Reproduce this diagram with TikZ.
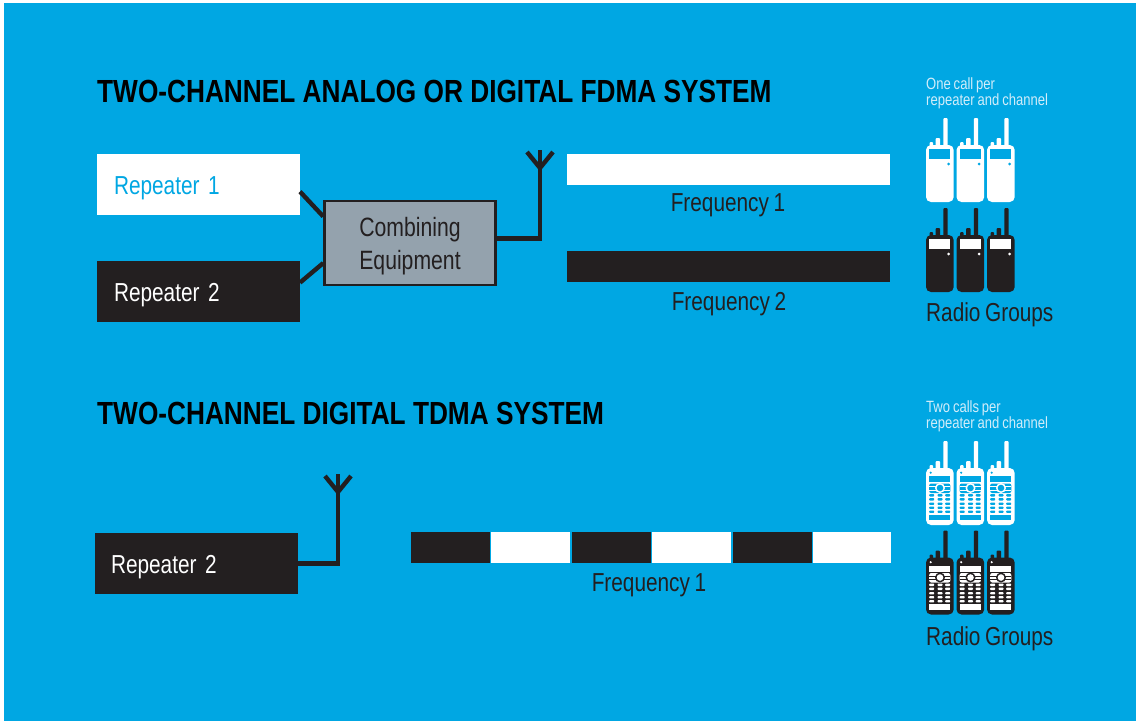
\documentclass[tikz,border=0pt]{standalone}
\usepackage{fontspec}
\setmainfont{Liberation Sans}
\newfontfamily\condfont[FakeStretch=0.80,WordSpace=0.8]{Liberation Sans}
\newfontfamily\headfont[FakeStretch=0.82]{Liberation Sans Bold}
\newcommand{\droptext}[1]{\raisebox{-9.5pt}[0pt][0pt]{#1}}
\definecolor{sky}{HTML}{00A7E3}
\definecolor{ink}{HTML}{231F20}
\definecolor{slate}{HTML}{94A2AD}
\definecolor{pale}{HTML}{D2EDFA}
\tikzset{
   pics/plainradio/.style 2 args={code={
      \fill[#1,rounded corners=1pt] (17.3,-27) rectangle (21.7,5);
      \fill[#1,rounded corners=1pt] (9.7,-7) rectangle (14,5);
      \fill[#1,rounded corners=1pt] (3.5,-3) rectangle (7,5);
      \fill[#1,rounded corners=5pt] (0,0) rectangle (27.7,57);
      \fill[#2] (3.2,4) rectangle (24.3,14);
      \fill[#2] (22.7,19) circle (1.5);
   }},
   pics/keyradio/.style 2 args={code={
      \fill[#1,rounded corners=1pt] (17.3,-27) rectangle (21.7,5);
      \fill[#1,rounded corners=1pt] (9.7,-7) rectangle (14,5);
      \fill[#1,rounded corners=1pt] (3.5,-3) rectangle (7,5);
      \fill[#1,rounded corners=5pt] (0,0) rectangle (27.7,57);
      \fill[#2] (4.7,4.7) circle (1.2);
      \fill[#2] (3.2,8.3) rectangle (24.3,14);
      \fill[#2,rounded corners=2pt] (3.2,15.5) rectangle (24.3,25);
      \draw[#1,line width=.8pt] (3.2,18.5) -- (24.3,18.5) (3.2,22) -- (24.3,22);
      \fill[#1] (14,20) circle (5);
      \fill[#2] (14,20) circle (3.3);
      \foreach \keyx in {5.7,14,21.7}
         \foreach \keyy in {27.3,31.3,35.7,39.7,43.7}
            \fill[#2,rounded corners=.8pt] (\keyx-2.5,\keyy-1.2) rectangle (\keyx+2.5,\keyy+1.2);
      \fill[#2] (3.2,46.7) rectangle (24.3,52.3);
   }}
}
\begin{document}
\begin{tikzpicture}[
   x=1pt,y=-1pt,
   wire/.style={line width=4.4pt,ink,line cap=butt},
   block/.style={inner sep=0pt,outer sep=0pt,minimum width=203pt,minimum height=61pt,text width=169pt,align=left,font=\condfont\fontsize{26}{26}\selectfont},
   bar/.style={inner sep=0pt,outer sep=0pt,minimum height=31pt},
   caption/.style={ink,font=\condfont\fontsize{26}{26}\selectfont},
   note/.style={pale,anchor=west,inner sep=0pt,font=\condfont\fontsize{16.3}{16.3}\selectfont},
   heading/.style={anchor=west,inner sep=0pt,font=\headfont\fontsize{32}{32}\selectfont}]
\useasboundingbox (0,0) rectangle (1136,721);
\fill[white] (0,0) rectangle (1136,721);
\fill[sky] (4,3) rectangle (1136,721);
% upper system
\node[heading] (headA) at (97,91) {TWO-CHANNEL ANALOG OR DIGITAL FDMA SYSTEM};
\node[block,fill=white,text=sky] (rep1) at (198.5,184.5) {\droptext{Repeater 1}};
\node[block,fill=ink,text=white] (rep2) at (198.5,291.5) {\droptext{Repeater 2}};
\node[draw=ink,line width=2.5pt,fill=slate,text=ink,inner sep=0pt,minimum width=171pt,minimum height=84pt,align=center,font=\condfont\fontsize{26.5}{33}\selectfont] (comb) at (410,243) {\rule{0pt}{25pt}Combining\\Equipment};
\coordinate (antA) at (540,168);
\coordinate (antAtop) at (540,150);
\coordinate (antAl) at (527,152);
\coordinate (antAr) at (553,152);
\draw[wire] (rep1.356) to (comb.163);
\draw[wire] (rep2.5) to (comb.193);
\draw[wire,line join=miter] (comb.3) -| (antAtop);
\draw[wire] (antAl) to (antA) to (antAr);
\node[bar,fill=white,minimum width=323pt] (freqA) at (728.5,169.5) {};
\node[bar,fill=ink,minimum width=323pt] (freqB) at (728.5,266.5) {};
\node[caption] (capA) at (728,205) {Frequency 1};
\node[caption] (capB) at (729,304) {Frequency 2};
\node[note] (noteA) at (926,85) {One call per};
\node[note] (noteB) at (926,101) {repeater and channel};
\foreach \radx in {926,956.5,987} {
   \pic at (\radx,145) {plainradio={white}{sky}};
   \pic at (\radx,235) {plainradio={ink}{white}};
}
\node[caption,anchor=west,inner sep=0pt] (groupsA) at (926,315) {Radio Groups};
% lower system
\node[heading] (headB) at (97,413) {TWO-CHANNEL DIGITAL TDMA SYSTEM};
\node[block,fill=ink,text=white,text width=171pt] (rep3) at (196.5,563.5) {\droptext{Repeater 2}};
\coordinate (antB) at (338,492);
\coordinate (antBtop) at (338,474);
\coordinate (antBl) at (325,476);
\coordinate (antBr) at (351,476);
\draw[wire,line join=miter] (rep3.east) -| (antBtop);
\draw[wire] (antBl) to (antB) to (antBr);
\foreach \slotx/\slotw/\slotc in {450.5/79/ink,530.5/79/white,611.5/79/ink,691.5/79/white,772.5/79/ink,852/78/white}
   \node[bar,fill=\slotc,minimum width=\slotw pt] (slot\slotx) at (\slotx,547.5) {};
\node[caption] (capC) at (649,585) {Frequency 1};
\node[note] (noteC) at (926,408) {Two calls per};
\node[note] (noteD) at (926,424) {repeater and channel};
\foreach \radx in {926,956.5,987} {
   \pic at (\radx,468) {keyradio={white}{sky}};
   \pic at (\radx,557.5) {keyradio={ink}{white}};
}
\node[caption,anchor=west,inner sep=0pt] (groupsB) at (926,639) {Radio Groups};
\end{tikzpicture}
\end{document}
